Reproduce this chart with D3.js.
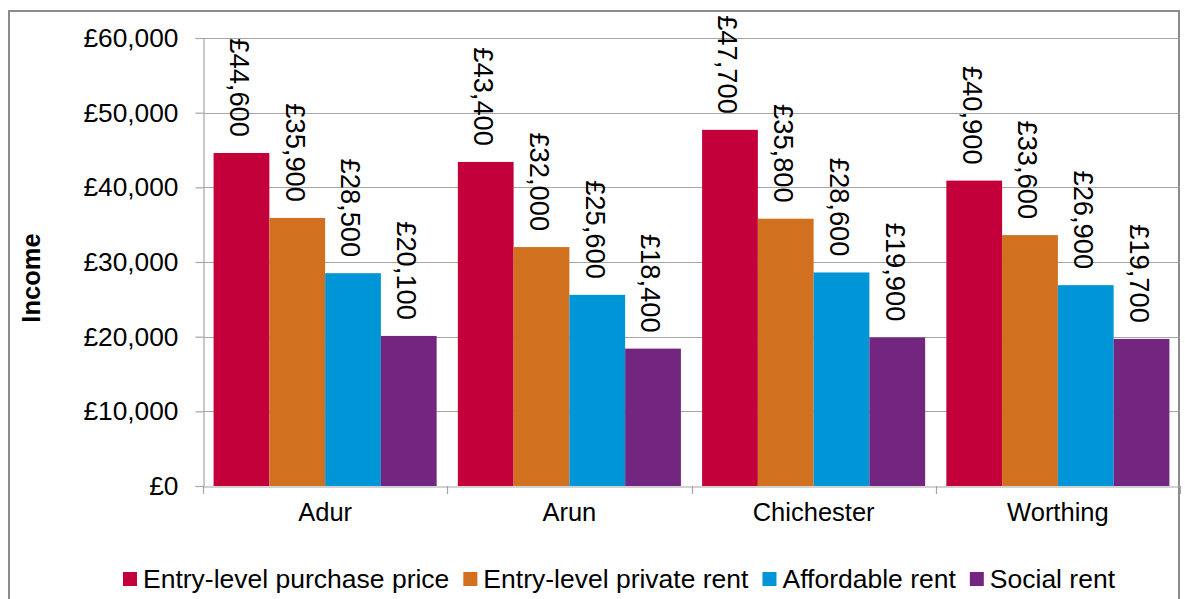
<!DOCTYPE html>
<html>
<head>
<meta charset="utf-8">
<script src="https://cdn.jsdelivr.net/npm/d3@7"></script>
<style>
  html, body { margin: 0; padding: 0; background: #fff; }
  svg { display: block; }
  text { font-family: "Liberation Sans", Arial, sans-serif; fill: #000; }
</style>
</head>
<body>
<svg id="chart" width="1185" height="599"></svg>
<script>
const categories = ["Adur", "Arun", "Chichester", "Worthing"];
const seriesNames = ["Entry-level purchase price", "Entry-level private rent", "Affordable rent", "Social rent"];
const seriesColors = ["#c3003a", "#d1701e", "#0095d6", "#732680"];
const purchase = [44600, 43400, 47700, 40900];
const privateRent = [35900, 32000, 35800, 33600];
const affordable = [28500, 25600, 28600, 26900];
const social = [20100, 18400, 19900, 19700];
const yTicks = [0, 10000, 20000, 30000, 40000, 50000, 60000];
const yTitle = "Income";

const seriesValues = [purchase, privateRent, affordable, social];

const svg = d3.select("#chart");
const plot = { left: 203, right: 1180, top: 38, bottom: 486 };

// outer border
svg.append("rect")
  .attr("x", 9).attr("y", 11)
  .attr("width", 1170).attr("height", 600)
  .attr("fill", "#fff")
  .attr("stroke", "#8c8c8c").attr("stroke-width", 2);

const x0 = d3.scaleBand().domain(categories).range([plot.left, plot.right]).paddingInner(0).paddingOuter(0);
const x1 = d3.scaleBand().domain(seriesNames).range([0, x0.bandwidth()]).paddingInner(0).paddingOuter(0.19);
const y = d3.scaleLinear().domain([0, 60000]).range([plot.bottom, plot.top]);

const fmt = v => "£" + d3.format(",")(v);

// gridlines
svg.append("g").selectAll("line").data(yTicks.filter(t => t > 0)).join("line")
  .attr("x1", plot.left).attr("x2", plot.right)
  .attr("y1", d => Math.round(y(d)) + 0.5).attr("y2", d => Math.round(y(d)) + 0.5)
  .attr("stroke", "#a6a6a6").attr("stroke-width", 1.2);

// y axis
const yAxis = svg.append("g")
  .attr("transform", `translate(${plot.left + 0.5},0)`)
  .call(d3.axisLeft(y).tickValues(yTicks).tickFormat(fmt).tickSize(8).tickPadding(17));
yAxis.select(".domain").attr("stroke", "#a6a6a6").attr("stroke-width", 1.2);
yAxis.selectAll(".tick line").attr("stroke", "#a6a6a6").attr("stroke-width", 1.2);
yAxis.selectAll(".tick text")
  .style("font-size", "26.3px").style("font-family", '"Liberation Sans", Arial, sans-serif')
  .attr("fill", "#000");

// bars
const groups = svg.append("g").selectAll("g").data(categories).join("g")
  .attr("transform", d => `translate(${x0(d)},0)`);

groups.each(function(cat, ci) {
  const g = d3.select(this);
  seriesNames.forEach((s, si) => {
    const v = seriesValues[si][ci];
    g.append("rect")
      .attr("x", x1(s)).attr("width", x1.bandwidth())
      .attr("y", y(v)).attr("height", y(0) - y(v))
      .attr("fill", seriesColors[si]);
    const cx = x1(s) + x1.bandwidth() / 2;
    g.append("text")
      .attr("transform", `translate(${cx - 2},${y(v) - 16}) rotate(90)`)
      .attr("text-anchor", "end")
      .attr("dy", "0.35em")
      .style("font-size", "27.3px")
      .text(fmt(v));
  });
});

// x axis
const xAxis = svg.append("g")
  .attr("transform", `translate(0,${plot.bottom + 0.5})`)
  .call(d3.axisBottom(x0).tickSize(0).tickPadding(16));
xAxis.select(".domain").attr("stroke", "#a6a6a6").attr("stroke-width", 1.2);
xAxis.selectAll(".tick text")
  .style("font-size", "25.5px").style("font-family", '"Liberation Sans", Arial, sans-serif')
  .attr("fill", "#000");
// category separator ticks
const sepPositions = categories.map(c => x0(c)).concat([plot.right]);
svg.append("g").selectAll("line").data(sepPositions).join("line")
  .attr("x1", d => Math.round(d) + 0.5).attr("x2", d => Math.round(d) + 0.5)
  .attr("y1", plot.bottom).attr("y2", plot.bottom + 8)
  .attr("stroke", "#a6a6a6").attr("stroke-width", 1.2);

// y title
svg.append("text")
  .attr("transform", `translate(31,278) rotate(-90)`)
  .attr("text-anchor", "middle")
  .attr("dy", "0.35em")
  .style("font-size", "25.5px").style("font-weight", "bold")
  .text(yTitle);

// legend
const legend = svg.append("g");
let lx = 123;
const ly = 579;
seriesNames.forEach((s, i) => {
  legend.append("rect")
    .attr("x", lx).attr("y", ly - 7).attr("width", 14).attr("height", 14)
    .attr("fill", seriesColors[i]);
  const t = legend.append("text")
    .attr("x", lx + 20).attr("y", ly).attr("dy", "0.35em")
    .style("font-size", "26.5px")
    .text(s);
  lx += 20 + t.node().getComputedTextLength() + 14;
});
</script>
</body>
</html>
